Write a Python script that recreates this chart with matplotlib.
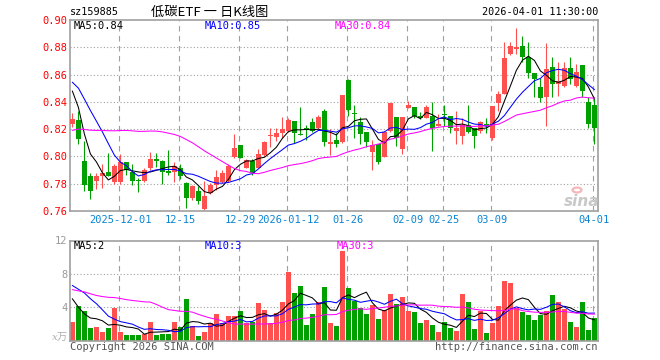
import matplotlib
matplotlib.use('Agg')
import matplotlib.pyplot as plt
import numpy as np
import pandas as pd

plt.rcParams['font.family'] = ['DejaVu Sans Mono', 'Noto Sans CJK SC']

W, H = 660, 360

# x axis labels (trading-day index of each label)
tick_idx = [8, 18, 28, 36, 46, 56, 62, 70, 87]
tick_lbl = ['2025-12-01', '12-15', '12-29', '2026-01-12', '01-26',
            '02-09', '02-25', '03-09', '04-01']

# daily OHLC, 2025-11-19 .. 2026-04-01
opens = [0.8236, 0.8268, 0.7966, 0.7858, 0.7823, 0.7853, 0.7887, 0.7809, 0.7809, 0.7961,
         0.7887, 0.7828, 0.7823, 0.7912, 0.7983, 0.7968, 0.7890, 0.7887, 0.7917, 0.7806,
         0.7696, 0.7745, 0.7615, 0.7733, 0.7794, 0.7814, 0.7823, 0.7995, 0.8081, 0.7917,
         0.7966, 0.7917, 0.8010, 0.8147, 0.8142, 0.8174, 0.8187, 0.8260, 0.8162, 0.8211,
         0.8253, 0.8206, 0.8334, 0.8093, 0.8120, 0.8108, 0.8562, 0.8319, 0.8255, 0.8179,
         0.8029, 0.8093, 0.7998, 0.8187, 0.8292, 0.8052, 0.8353, 0.8363, 0.8295, 0.8285,
         0.8294, 0.8226, 0.8309, 0.8294, 0.8187, 0.8147, 0.8228, 0.8211, 0.8187, 0.8236,
         0.8133, 0.8388, 0.8461, 0.8751, 0.8788, 0.8807, 0.8731, 0.8609, 0.8506, 0.8432,
         0.8658, 0.8530, 0.8513, 0.8645, 0.8518, 0.8672, 0.8400, 0.8378]
highs = [0.8320, 0.8334, 0.8113, 0.7875, 0.7875, 0.7948, 0.8022, 0.7948, 0.8020, 0.7961,
         0.7946, 0.7843, 0.7912, 0.8032, 0.8027, 0.7975, 0.8044, 0.7961, 0.7941, 0.7810,
         0.7794, 0.7782, 0.7818, 0.7806, 0.7904, 0.7897, 0.7948, 0.8162, 0.8081, 0.7978,
         0.7978, 0.8052, 0.8113, 0.8211, 0.8211, 0.8292, 0.8285, 0.8260, 0.8363, 0.8231,
         0.8285, 0.8304, 0.8346, 0.8199, 0.8174, 0.8452, 0.8567, 0.8378, 0.8290, 0.8179,
         0.8120, 0.8093, 0.8187, 0.8395, 0.8292, 0.8292, 0.8407, 0.8363, 0.8322, 0.8378,
         0.8402, 0.8309, 0.8378, 0.8294, 0.8334, 0.8285, 0.8378, 0.8211, 0.8260, 0.8285,
         0.8370, 0.8481, 0.8837, 0.8837, 0.8940, 0.8881, 0.8837, 0.8609, 0.8572, 0.8830,
         0.8731, 0.8690, 0.8690, 0.8731, 0.8677, 0.8672, 0.8432, 0.8432]
lows = [0.8215, 0.8093, 0.7745, 0.7691, 0.7764, 0.7769, 0.7853, 0.7801, 0.7801, 0.7867,
        0.7794, 0.7740, 0.7814, 0.7904, 0.7926, 0.7801, 0.7867, 0.7814, 0.7838, 0.7622,
        0.7683, 0.7652, 0.7605, 0.7725, 0.7757, 0.7806, 0.7814, 0.7990, 0.7985, 0.7912,
        0.7867, 0.7912, 0.8002, 0.8069, 0.8113, 0.8137, 0.8182, 0.8100, 0.8155, 0.8118,
        0.8182, 0.8199, 0.8076, 0.8010, 0.8069, 0.8100, 0.8294, 0.8137, 0.8093, 0.8069,
        0.7904, 0.7946, 0.7995, 0.8182, 0.8076, 0.8015, 0.8353, 0.8285, 0.8272, 0.8280,
        0.8039, 0.8221, 0.8223, 0.8174, 0.8093, 0.8093, 0.8174, 0.8064, 0.8174, 0.8174,
        0.8118, 0.8334, 0.8456, 0.8746, 0.8751, 0.8690, 0.8572, 0.8432, 0.8402, 0.8223,
        0.8432, 0.8444, 0.8506, 0.8530, 0.8510, 0.8432, 0.8211, 0.8093]
closes = [0.8272, 0.8125, 0.7794, 0.7750, 0.7858, 0.7877, 0.7858, 0.7931, 0.7958, 0.7902,
          0.7823, 0.7818, 0.7904, 0.7983, 0.7963, 0.7887, 0.7877, 0.7931, 0.7853, 0.7696,
          0.7782, 0.7671, 0.7708, 0.7794, 0.7848, 0.7880, 0.7929, 0.8064, 0.7990, 0.7971,
          0.7880, 0.8020, 0.8108, 0.8157, 0.8174, 0.8204, 0.8265, 0.8174, 0.8157, 0.8191,
          0.8187, 0.8290, 0.8108, 0.8108, 0.8093, 0.8452, 0.8339, 0.8314, 0.8162, 0.8108,
          0.8081, 0.7961, 0.8179, 0.8395, 0.8133, 0.8292, 0.8378, 0.8297, 0.8285, 0.8363,
          0.8206, 0.8240, 0.8304, 0.8206, 0.8206, 0.8231, 0.8182, 0.8147, 0.8255, 0.8226,
          0.8366, 0.8461, 0.8719, 0.8812, 0.8800, 0.8731, 0.8609, 0.8567, 0.8427, 0.8640,
          0.8530, 0.8550, 0.8645, 0.8567, 0.8616, 0.8481, 0.8236, 0.8211]
# volume, 万手
volume = [2.24, 4.12, 3.52, 1.52, 1.64, 1.04, 1.52, 3.92, 1.04, 0.64,
          0.64, 0.64, 0.80, 2.24, 0.72, 0.80, 0.80, 2.24, 1.60, 5.00,
          1.72, 0.52, 1.04, 2.12, 3.20, 2.12, 2.92, 3.00, 3.60, 2.12,
          2.24, 4.48, 3.68, 2.12, 3.28, 4.64, 8.24, 5.68, 6.56, 1.88,
          3.20, 4.64, 6.44, 2.12, 1.76, 10.72, 6.32, 4.80, 3.92, 3.24,
          4.32, 2.60, 3.68, 5.64, 4.40, 5.24, 3.60, 3.44, 2.12, 2.48,
          1.88, 1.04, 2.24, 1.52, 1.16, 5.60, 4.64, 1.44, 3.60, 0.92,
          2.12, 4.12, 7.12, 6.92, 3.92, 3.44, 3.12, 2.52, 3.12, 3.50,
          5.50, 4.60, 3.80, 2.20, 1.60, 4.60, 1.30, 2.70]

# the 29 sessions before the window (only feed the moving averages)
prior_close = [0.785, 0.788, 0.792, 0.790, 0.787, 0.793, 0.795, 0.790, 0.788, 0.791,
               0.794, 0.789, 0.792, 0.798, 0.806, 0.815, 0.822, 0.830, 0.838, 0.848,
               0.855, 0.860, 0.858, 0.864, 0.867, 0.872, 0.877, 0.848, 0.815]
prior_volume = [8.5, 7.2, 8.3, 7.8, 5.0, 4.2, 4.8, 4.4, 4.8, 3.6,
                3.0, 3.4, 3.2, 9.0, 10.6, 9.8, 5.2, 4.6, 5.1, 4.6,
                8.6, 8.0, 8.4, 7.6, 8.4, 9.12, 7.52, 4.02, 2.1]

RED = '#ff5050'
GREEN = '#00a000'
GRID = '#a0a0a0'
TXT_BLUE = '#0a84d2'
MA_COL = {5: 'black', 10: '#0000ff', 30: '#ff00ff'}

n = len(closes)
x = np.arange(n)
o = np.array(opens)
c = np.array(closes)
colors = [RED if c[i] >= o[i] else GREEN for i in range(n)]

def ma(prior, vals, k):
    s = pd.Series(list(prior) + list(vals)).rolling(k).mean()
    return s.iloc[len(prior):].to_numpy()

fig = plt.figure(figsize=(W / 100, H / 100), dpi=100)

def box(left, top, right, bottom):
    return [left / W, 1 - bottom / H, (right - left) / W, (bottom - top) / H]

ax = fig.add_axes(box(70, 20, 598, 211))
axv = fig.add_axes(box(70, 240.5, 598, 340.5))

xlim = (-0.4, n - 0.4)
grid_x = [i - 0.28 for i in tick_idx]

for a in (ax, axv):
    a.set_xlim(*xlim)
    for s in a.spines.values():
        s.set_color(GRID)
        s.set_linewidth(1.2)
    for gx in grid_x:
        a.axvline(gx, color=GRID, lw=0.8, ls=(0, (5, 4)), zorder=0)
    a.tick_params(length=0)

# ---- price panel ----
ax.vlines(x, lows, highs, colors=colors, lw=0.8, zorder=2)
body_lo = np.minimum(o, c)
body_h = np.maximum(np.abs(c - o), 0.0004)
ax.bar(x, body_h, bottom=body_lo, width=0.8, color=colors, lw=0, zorder=3)

for k in (5, 10, 30):
    ax.plot(x, ma(prior_close, closes, k), color=MA_COL[k], lw=0.75, zorder=4)

ax.set_ylim(0.76, 0.90)
yt = [0.76, 0.78, 0.80, 0.82, 0.84, 0.86, 0.88, 0.90]
ax.set_yticks(yt)
ax.set_yticklabels([f'{v:.2f}' for v in yt], color='#ff0000', fontsize=7.5)
ax.tick_params(axis='y', pad=2)
for v in yt[1:-1]:
    ax.axhline(v, color=GRID, lw=0.8, ls=(0, (1, 2)), zorder=0)
ax.set_xticks(x[tick_idx])
ax.set_xticklabels(tick_lbl, color=TXT_BLUE, fontsize=7.5)
ax.tick_params(axis='x', pad=3)

# ---- volume panel ----
axv.bar(x, volume, width=0.8, color=colors, lw=0, zorder=2)
for k in (5, 10, 30):
    axv.plot(x, ma(prior_volume, volume, k), color=MA_COL[k], lw=0.75, zorder=3)
axv.set_ylim(0, 12)
axv.set_yticks([4, 8, 12])
axv.set_yticklabels(['4', '8', '12'], color='#999999', fontsize=7.5)
axv.tick_params(axis='y', pad=2)
axv.set_xticks([])
for v in (4, 8):
    axv.axhline(v, color=GRID, lw=0.8, ls=(0, (1, 2)), zorder=0)

# ---- texts ----
def ftext(px, py, s, **kw):
    fig.text(px / W, 1 - py / H, s, **kw)

# sina watermark
fig.patches.append(plt.Circle((577 / W, 1 - 190 / H), 4.5 / W, transform=fig.transFigure,
                              fill=False, ec='#f4b8b8', lw=1.6))
ftext(564, 201, 'sina', fontsize=11, color='#c8c8c8', fontweight='bold',
      style='italic', family='DejaVu Sans', va='center')

ftext(70, 12, 'sz159885', fontsize=7.3, va='center', ha='left')
ftext(210, 12, '低碳ETF 一 日K线图', fontsize=9.5, va='center', ha='center',
      family=['Noto Sans CJK SC', 'DejaVu Sans'])
ftext(598, 12, '2026-04-01 11:30:00', fontsize=7.3, va='center', ha='right')

ma5 = ma(prior_close, closes, 5)[-1]
ma10 = ma(prior_close, closes, 10)[-1]
ma30 = ma(prior_close, closes, 30)[-1]
ftext(74, 26, f'MA5:{ma5:.2f}', fontsize=7.5, va='center', color=MA_COL[5])
ftext(205, 26, f'MA10:{ma10:.2f}', fontsize=7.5, va='center', color=MA_COL[10])
ftext(335, 26, f'MA30:{ma30:.2f}', fontsize=7.5, va='center', color=MA_COL[30])

vm5 = ma(prior_volume, volume, 5)[-1]
vm10 = ma(prior_volume, volume, 10)[-1]
vm30 = ma(prior_volume, volume, 30)[-1]
ftext(74, 246, f'MA5:{vm5:.0f}', fontsize=7.5, va='center', color=MA_COL[5])
ftext(205, 246, f'MA10:{vm10:.0f}', fontsize=7.5, va='center', color=MA_COL[10])
ftext(337, 246, f'MA30:{vm30:.0f}', fontsize=7.5, va='center', color=MA_COL[30])

ftext(68, 338, 'x万', fontsize=7.5, va='center', ha='right', color='#b0b0b0',
      style='italic', family=['DejaVu Serif', 'Noto Sans CJK SC'])
ftext(70, 347, 'Copyright 2026 SINA.COM', fontsize=7.5, va='center', color='#555555')
ftext(598, 347, 'http://finance.sina.com.cn', fontsize=7.5, va='center',
      ha='right', color='#555555')

fig.savefig('out.png', dpi=100)
